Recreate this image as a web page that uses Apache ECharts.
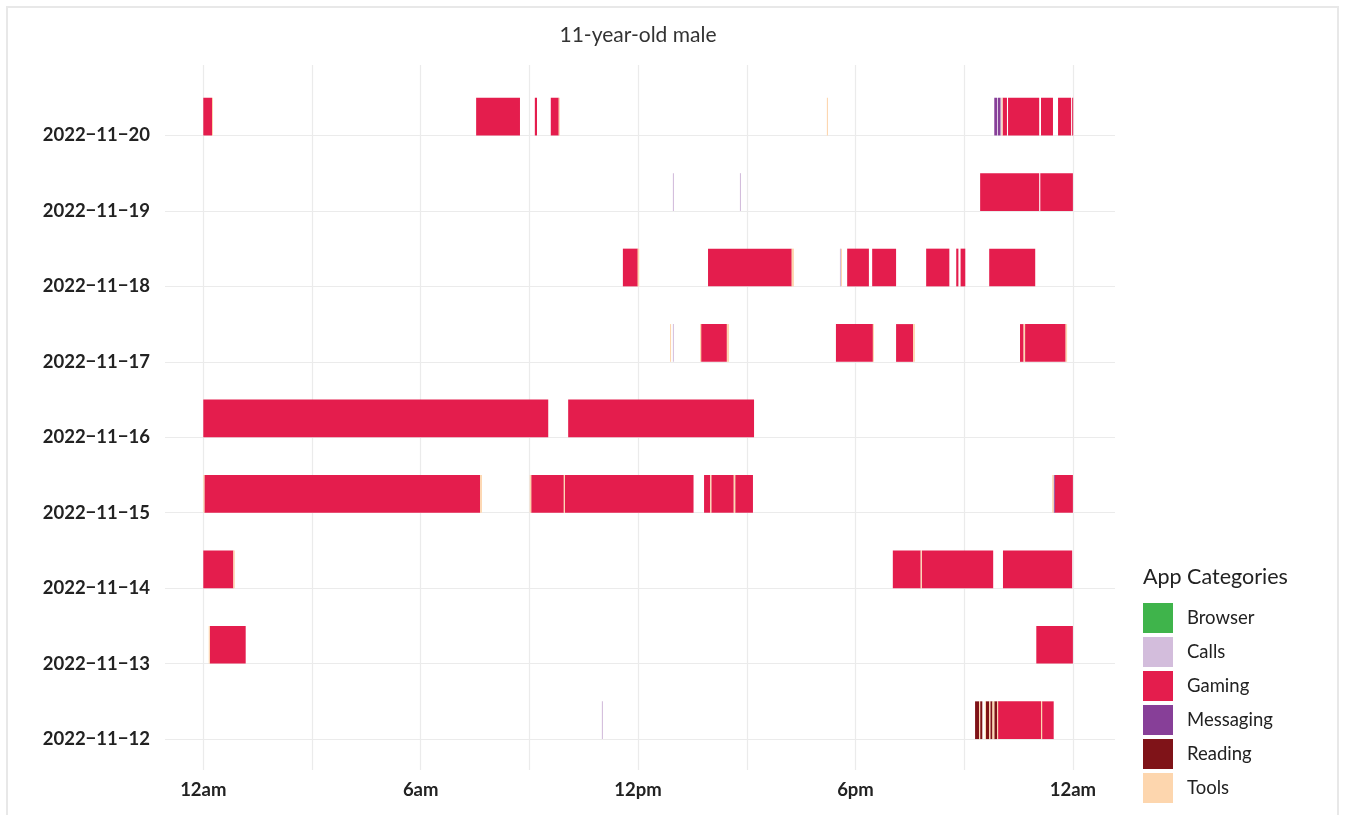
<!DOCTYPE html>
<html>
<head>
<meta charset="utf-8">
<script src="https://cdn.jsdelivr.net/npm/echarts@6/dist/echarts.min.js"></script>
<style>
html,body{margin:0;padding:0;background:#fff;}
#chart{width:1346px;height:815px;}
</style>
</head>
<body>
<div id="chart"></div>
<script>
// ---- data ----
const days = ['2022\u221211\u221212','2022\u221211\u221213','2022\u221211\u221214','2022\u221211\u221215','2022\u221211\u221216','2022\u221211\u221217','2022\u221211\u221218','2022\u221211\u221219','2022\u221211\u221220'];
const hourTicks = [0, 6, 12, 18, 24];
const hourLabels = ['12am', '6am', '12pm', '6pm', '12am'];
const categories = ['Browser', 'Calls', 'Gaming', 'Messaging', 'Reading', 'Tools'];
const colors = ['#3fb44b', '#d3bddc', '#e41d4d', '#873f98', '#7f1318', '#fdd6ae'];

// each entry: [dayIndex, startHour, endHour]
const browser = [];
const calls = [
  [8, 22.00, 22.03],
  [7, 12.96, 12.99], [7, 14.81, 14.84],
  [6, 17.57, 17.60],
  [5, 12.96, 12.98],
  [0, 11.00, 11.03]
];
const gaming = [
  [8, 0.00, 0.24], [8, 7.53, 8.74], [8, 9.15, 9.21], [8, 9.59, 9.81], [8, 22.06, 22.18], [8, 22.21, 23.07], [8, 23.12, 23.45], [8, 23.59, 23.95], [8, 23.98, 24.00],
  [7, 21.44, 23.07], [7, 23.10, 24.00],
  [6, 11.58, 11.99], [6, 13.93, 16.24], [6, 17.77, 18.37], [6, 18.46, 19.12], [6, 19.95, 20.59], [6, 20.78, 20.84], [6, 20.90, 21.03], [6, 21.69, 22.96],
  [5, 13.74, 14.45], [5, 17.46, 18.48], [5, 19.12, 19.59], [5, 22.54, 22.64], [5, 22.68, 23.80],
  [4, 0.00, 9.52], [4, 10.07, 15.20],
  [3, 0.03, 7.64], [3, 9.05, 9.95], [3, 9.98, 13.53], [3, 13.82, 13.99], [3, 14.02, 14.64], [3, 14.68, 15.17], [3, 23.50, 24.00],
  [2, 0.00, 0.83], [2, 19.03, 19.80], [2, 19.83, 21.80], [2, 22.07, 23.98],
  [1, 0.18, 1.17], [1, 22.99, 24.00],
  [0, 21.93, 23.12], [0, 23.15, 23.47]
];
const messaging = [
  [8, 21.83, 21.91], [8, 21.93, 22.00],
  [3, 23.47, 23.50]
];
const reading = [
  [0, 21.30, 21.41], [0, 21.44, 21.50], [0, 21.60, 21.69], [0, 21.72, 21.78], [0, 21.83, 21.91]
];
const tools = [
  [8, 0.24, 0.26], [8, 9.81, 9.84], [8, 17.21, 17.24], [8, 22.03, 22.06],
  [6, 11.99, 12.03], [6, 16.24, 16.30], [6, 17.60, 17.62],
  [5, 12.88, 12.91], [5, 13.71, 13.74], [5, 14.45, 14.51], [5, 18.48, 18.51], [5, 19.59, 19.64], [5, 22.64, 22.68], [5, 23.80, 23.84],
  [3, 0.00, 0.03], [3, 7.64, 7.69], [3, 9.01, 9.05], [3, 9.95, 9.98], [3, 13.99, 14.02], [3, 14.64, 14.68], [3, 23.43, 23.47],
  [2, 0.83, 0.87], [2, 19.80, 19.83],
  [1, 0.15, 0.18],
  [0, 21.41, 21.44], [0, 21.57, 21.60], [0, 21.69, 21.72], [0, 21.78, 21.83], [0, 21.91, 21.93], [0, 23.12, 23.15]
];
const seriesData = [browser, calls, gaming, messaging, reading, tools];

// ---- chart ----
const chart = echarts.init(document.getElementById('chart'));
const FONT = 'Lato';

function makeRender(color) {
  return function (params, api) {
    const day = api.value(0), s = api.value(1), e = api.value(2);
    const p0 = api.coord([s, day]);
    const p1 = api.coord([e, day + 0.5]);
    const w = Math.max(p1[0] - p0[0], 1);
    return {
      type: 'rect',
      shape: { x: p0[0], y: p1[1], width: w, height: p0[1] - p1[1] },
      style: { fill: color }
    };
  };
}

const series = categories.map((name, i) => ({
  name: name,
  type: 'custom',
  xAxisIndex: 1,
  yAxisIndex: 1,
  itemStyle: { color: colors[i] },
  renderItem: makeRender(colors[i]),
  encode: { x: [1, 2], y: 0 },
  data: seriesData[i]
}));

const option = {
  backgroundColor: '#fff',
  animation: false,
  title: {
    text: '11-year-old male',
    left: 633, top: 20, textAlign: 'center',
    textStyle: { fontFamily: FONT, fontSize: 21, fontWeight: 'normal', color: '#333' }
  },
  graphic: [
    { type: 'rect', shape: { x: 7, y: 7, width: 1331, height: 812 }, style: { fill: 'none', stroke: '#e8e8e8', lineWidth: 2 }, silent: true },
    { type: 'text', left: 1143, top: 566, style: { text: 'App Categories', fontFamily: FONT, fontSize: 21.5, fill: '#222' } }
  ],
  legend: {
    orient: 'vertical',
    left: 1143, top: 603, padding: 0,
    itemWidth: 30, itemHeight: 30, itemGap: 4,
    icon: 'rect',
    data: categories,
    textStyle: { fontFamily: FONT, fontSize: 18.5, color: '#222', padding: [0, 0, 0, 9] }
  },
  grid: [
    { left: 165, right: 231, top: 135.5, bottom: 76 },
    { left: 203.3, right: 273.1, top: 65, bottom: 45 }
  ],
  xAxis: [
    { gridIndex: 0, type: 'value', min: 0, max: 1, show: false },
    {
      gridIndex: 1, type: 'value', min: 0, max: 24, interval: 3,
      axisLine: { show: false }, axisTick: { show: false },
      splitLine: { show: true, lineStyle: { color: '#ebebeb', width: 1.2 } },
      axisLabel: {
        margin: 11,
        fontFamily: FONT, fontSize: 18.5, fontWeight: 'bold', color: '#222',
        formatter: function (v) { const k = hourTicks.indexOf(v); return k >= 0 ? hourLabels[k] : ''; }
      }
    }
  ],
  yAxis: [
    {
      gridIndex: 0, type: 'value', min: 0, max: 8, interval: 1,
      axisLine: { show: false }, axisTick: { show: false },
      splitLine: { show: true, lineStyle: { color: '#ebebeb', width: 1.2 } },
      axisLabel: {
        margin: 15,
        fontFamily: FONT, fontSize: 18.5, fontWeight: 'bold', color: '#222',
        formatter: function (v) { return days[v] || ''; }
      }
    },
    { gridIndex: 1, type: 'value', min: -0.41, max: 8.934, show: false }
  ],
  series: series
};
chart.setOption(option);
</script>
</body>
</html>
